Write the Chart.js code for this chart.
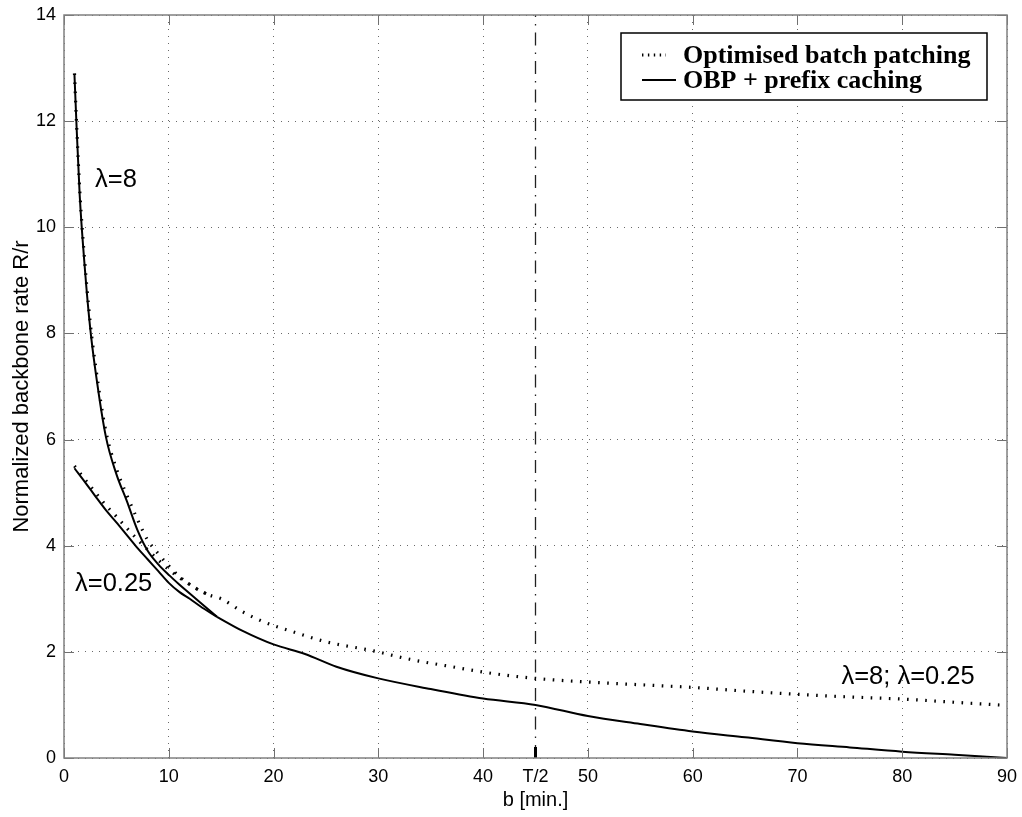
<!DOCTYPE html>
<html>
<head>
<meta charset="utf-8">
<title>Normalized backbone rate</title>
<script src="https://cdn.jsdelivr.net/npm/chart.js@4.4.1/dist/chart.umd.min.js"></script>
<style>
  html, body { margin: 0; padding: 0; background: #fff; }
  #wrap { width: 1022px; height: 817px; position: relative; }
</style>
</head>
<body>
<div id="wrap"><canvas id="rateChart"></canvas></div>
<script>
// =================================================================
// 1. values
// =================================================================
const xTicks = [0, 10, 20, 30, 40, 45, 50, 60, 70, 80, 90];
const yTicks = [0, 2, 4, 6, 8, 10, 12, 14];
const tHalf = 45;

// Optimised batch patching (dotted): lambda=8 branch, lambda=0.25 branch, common tail
const bObpHigh = [1, 1.2, 1.5, 2, 2.5, 3, 4, 5, 6, 7, 8, 9, 10, 11, 12, 13, 14];
const rObpHigh = [12.9, 11.95, 10.7, 9.3, 8.2, 7.4, 6.15, 5.45, 4.95, 4.5, 4.1, 3.85, 3.62, 3.42, 3.27, 3.15, 3.06];
const bObpLow = [1, 2, 3, 4, 5, 6, 7, 8, 9, 10, 11, 12, 13, 14];
const rObpLow = [5.5, 5.25, 5.0, 4.76, 4.55, 4.33, 4.12, 3.92, 3.73, 3.55, 3.4, 3.27, 3.15, 3.06];
const bObpTail = [14, 15, 17, 19, 22, 25, 29.5, 33, 37, 41, 45, 51, 55, 60, 65, 70, 75, 80, 85, 90];
const rObpTail = [3.06, 3.0, 2.76, 2.57, 2.37, 2.19, 2.02, 1.86, 1.72, 1.59, 1.5, 1.42, 1.38, 1.33, 1.26, 1.2, 1.15, 1.11, 1.05, 0.99];

// OBP + prefix caching (solid)
const bPcHigh = [1, 1.2, 1.5, 2, 2.5, 3, 4, 5, 6, 7, 8, 9, 10, 11, 12, 13, 14.6];
const rPcHigh = [12.87, 11.9, 10.6, 9.2, 8.1, 7.3, 6.05, 5.35, 4.84, 4.3, 3.9, 3.65, 3.45, 3.27, 3.1, 2.93, 2.66];
const bPcLow = [1, 2, 3, 4, 5, 6, 7, 8, 9, 10, 11, 12, 13, 14.6];
const rPcLow = [5.46, 5.2, 4.93, 4.67, 4.44, 4.2, 3.96, 3.74, 3.52, 3.3, 3.13, 3.0, 2.86, 2.66];
const bPcTail = [14.6, 17, 20, 23, 26, 30, 35, 40, 45, 50, 55, 60, 65, 70, 75, 80, 85, 90];
const rPcTail = [2.66, 2.4, 2.14, 1.96, 1.72, 1.5, 1.3, 1.12, 1.0, 0.79, 0.64, 0.5, 0.39, 0.28, 0.2, 0.12, 0.06, 0.0];

const labelObp = 'Optimised batch patching';
const labelPc = 'OBP + prefix caching';

// =================================================================
// 2. helpers / styles
// =================================================================
const pts = (bs, rs) => bs.map((b, i) => ({ x: b, y: rs[i] }));

const dotted = { borderColor: '#000', borderWidth: 3.2, borderDash: [1.6, 7.5], borderCapStyle: 'butt' };
const solid = { borderColor: '#000', borderWidth: 2 };
const common = { pointRadius: 0, cubicInterpolationMode: 'monotone', fill: false };

// text notes placed in data coordinates
const notes = [
    { text: 'λ=8', b: 2.96, r: 10.89 },
    { text: 'λ=0.25', b: 1.05, r: 3.28 },
    { text: 'λ=8; λ=0.25', b: 74.2, r: 1.53 }
];

// =================================================================
// 3. plugins: matlab style frame + inward ticks, notes, boxed legend
// =================================================================
const frameTicks = {
    id: 'frameTicks',
    afterDatasetsDraw(chart) {
        const { ctx, chartArea: a, scales: { x, y } } = chart;
        const line = (x1, y1, x2, y2) => {
            ctx.beginPath(); ctx.moveTo(x1, y1); ctx.lineTo(x2, y2); ctx.stroke();
        };
        ctx.save();
        ctx.strokeStyle = '#707070';
        ctx.lineWidth = 1;
        x.ticks.forEach(t => {
            if (t.value === tHalf) return;
            const px = Math.round(x.getPixelForValue(t.value)) + 0.5;
            line(px, a.bottom, px, a.bottom - 10);
            line(px, a.top, px, a.top + 10);
        });
        y.ticks.forEach(t => {
            const py = Math.round(y.getPixelForValue(t.value)) + 0.5;
            line(a.left, py, a.left + 10, py);
            line(a.right, py, a.right - 10, py);
        });
        // heavy tick for T/2
        ctx.strokeStyle = '#000';
        ctx.lineWidth = 3;
        const ph = x.getPixelForValue(tHalf);
        line(ph, a.bottom, ph, a.bottom - 11);
        // box
        ctx.strokeStyle = '#808080';
        ctx.lineWidth = 1.5;
        ctx.strokeRect(a.left, a.top, a.width, a.height);
        ctx.restore();
    }
};

const noteText = {
    id: 'noteText',
    afterDraw(chart) {
        const { ctx, scales: { x, y } } = chart;
        ctx.save();
        ctx.fillStyle = '#000';
        ctx.font = '25.5px "Liberation Sans", Arial, sans-serif';
        ctx.textBaseline = 'middle';
        ctx.textAlign = 'left';
        notes.forEach(n => ctx.fillText(n.text, x.getPixelForValue(n.b), y.getPixelForValue(n.r)));
        ctx.restore();
    }
};

const boxLegend = {
    id: 'boxLegend',
    afterDraw(chart) {
        const { ctx, chartArea: a } = chart;
        const items = chart.data.datasets.filter(d => d.inLegend);
        const w = 366, h = 67;
        const left = a.right - 20 - w, top = a.top + 18;
        ctx.save();
        ctx.fillStyle = '#fff';
        ctx.fillRect(left, top, w, h);
        ctx.strokeStyle = '#000';
        ctx.lineWidth = 1.5;
        ctx.strokeRect(left, top, w, h);
        items.forEach((d, i) => {
            const cy = top + 22 + i * 25;
            const isDot = (d.borderDash || []).length > 0;
            ctx.beginPath();
            ctx.setLineDash(isDot ? [1.4, 4.5] : []);
            ctx.lineWidth = isDot ? 3 : d.borderWidth;
            ctx.strokeStyle = d.borderColor;
            ctx.moveTo(left + 21, cy);
            ctx.lineTo(left + (isDot ? 45 : 55), cy);
            ctx.stroke();
            ctx.setLineDash([]);
            ctx.fillStyle = '#000';
            ctx.font = 'bold 26px "Liberation Serif", "Times New Roman", serif';
            ctx.textBaseline = 'middle';
            ctx.fillText(d.label, left + 62, cy + 1);
        });
        ctx.restore();
    }
};

// =================================================================
// 4. chart
// =================================================================
const tickFont = { family: '"Liberation Sans", Arial, sans-serif', size: 18 };
const titleFont = { family: '"Liberation Sans", Arial, sans-serif', size: 20 };

new Chart(document.getElementById('rateChart'), {
    type: 'line',
    data: {
        datasets: [
            { label: labelObp, inLegend: true, data: pts(bObpHigh, rObpHigh), ...dotted, ...common },
            { label: labelObp, data: pts(bObpLow, rObpLow), ...dotted, ...common },
            { label: labelObp, data: pts(bObpTail, rObpTail), ...dotted, ...common },
            { label: labelPc, inLegend: true, data: pts(bPcHigh, rPcHigh), ...solid, ...common },
            { label: labelPc, data: pts(bPcLow, rPcLow), ...solid, ...common },
            { label: labelPc, data: pts(bPcTail, rPcTail), ...solid, ...common },
            {
                label: 'T/2',
                data: [{ x: tHalf, y: yTicks[0] }, { x: tHalf, y: yTicks[yTicks.length - 1] }],
                borderColor: '#222', borderWidth: 1.3, borderDash: [13, 7, 1.5, 7], pointRadius: 0
            }
        ]
    },
    options: {
        responsive: true,
        maintainAspectRatio: false,
        animation: false,
        layout: { padding: { top: 15, right: 15, left: 0, bottom: 0 } },
        plugins: { legend: { display: false }, tooltip: { enabled: false } },
        scales: {
            x: {
                type: 'linear',
                min: 0, max: 90,
                afterBuildTicks: s => { s.ticks = xTicks.map(v => ({ value: v })); },
                afterFit: s => { s.height = 59; s.paddingLeft = 0; s.paddingRight = 0; },
                ticks: {
                    callback: v => v === tHalf ? 'T/2' : v,
                    font: tickFont, color: '#000', padding: 8,
                    autoSkip: false, maxRotation: 0
                },
                grid: {
                    color: c => (c.tick && c.tick.value === tHalf) ? 'rgba(0,0,0,0)' : '#6a6a6a',
                    drawTicks: false, lineWidth: 1
                },
                border: { display: false, dash: [1, 6] },
                title: { display: true, text: 'b [min.]', font: titleFont, color: '#000', padding: { top: 0, bottom: 5 } }
            },
            y: {
                type: 'linear',
                min: 0, max: 14,
                afterBuildTicks: s => { s.ticks = yTicks.map(v => ({ value: v })); },
                afterFit: s => { s.width = 64; s.paddingTop = 0; s.paddingBottom = 0; },
                ticks: { font: tickFont, color: '#000', padding: 8 },
                grid: { color: '#6a6a6a', drawTicks: false, lineWidth: 1 },
                border: { display: false, dash: [1, 6] },
                title: {
                    display: true, text: 'Normalized backbone rate R/r', color: '#000',
                    font: { family: '"Liberation Sans", Arial, sans-serif', size: 22 },
                    padding: { top: 9, bottom: 0 }
                }
            }
        }
    },
    plugins: [frameTicks, noteText, boxLegend]
});
</script>
</body>
</html>
